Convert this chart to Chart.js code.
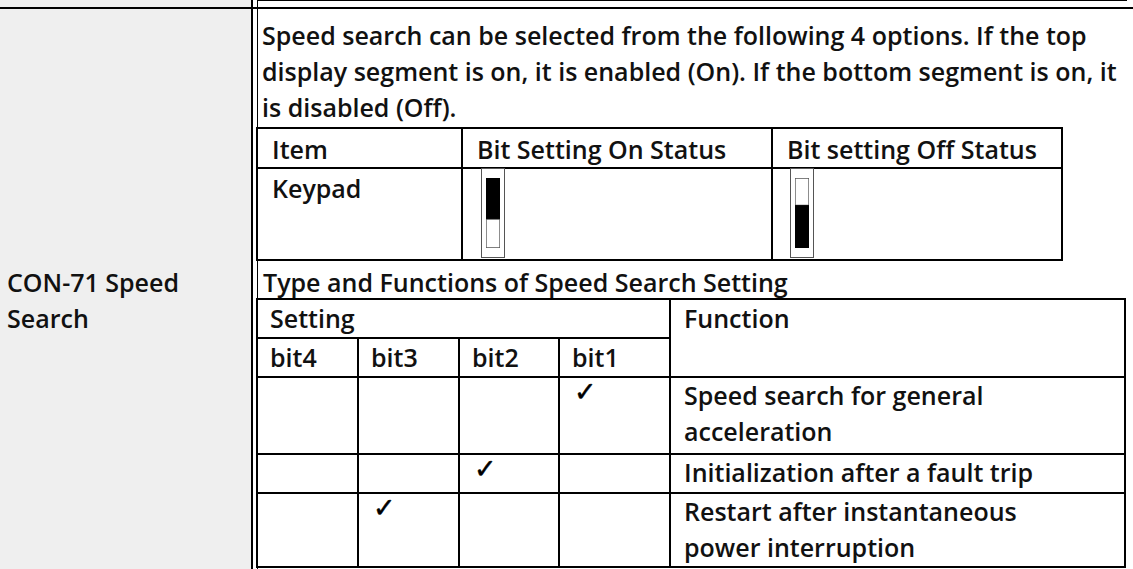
<!DOCTYPE html>
<html>
<head>
<meta charset="utf-8">
<script src="https://cdn.jsdelivr.net/npm/chart.js@4.4.0/dist/chart.umd.min.js"></script>
<style>
  html, body { margin: 0; padding: 0; background: #fff; }
  body { width: 1133px; height: 569px; position: relative; overflow: hidden;
         font-family: "Open Sans", sans-serif; font-weight: 600; color: #111; }
  .ln { position: absolute; background: #000; }
  .tx { position: absolute; white-space: nowrap; line-height: 36px; }
  .chk { position: absolute; font-family: "DejaVu Sans", sans-serif;
         font-size: 27px; line-height: 27px; -webkit-text-stroke: 0.5px #000; color: #000; }
  .sw { position: absolute; border: 1px solid #555; box-sizing: border-box; background: #fff; }
  .sw div { position: absolute; left: 4px; right: 4px; top: 9px; bottom: 9px; }
</style>
</head>
<body>
<script>
// --- texts ---
const sideTitle = ['CON-71 Speed', 'Search'];
const paragraphLines = [
    'Speed search can be selected from the following 4 options. If the top',
    'display segment is on, it is enabled (On). If the bottom segment is on, it',
    'is disabled (Off).'
];
const bitTableHeaders = ['Item', 'Bit Setting On Status', 'Bit setting Off Status'];
const bitTableItem = 'Keypad';
const subTitle = 'Type and Functions of Speed Search Setting';
const settingHeader = 'Setting';
const functionHeader = 'Function';
const bitLabels = ['bit4', 'bit3', 'bit2', 'bit1'];

// --- values ---
// switch segments, [lower, upper]
const switchOn = [28, 40];
const switchOff = [42, 27];
// one row per function, columns follow bitLabels
const checks = [
    [0, 0, 0, 1],
    [0, 0, 1, 0],
    [0, 1, 0, 0]
];
const functionLines = [
    ['Speed search for general', 'acceleration'],
    ['Initialization after a fault trip'],
    ['Restart after instantaneous', 'power interruption']
];

// --- layout ---
const upperCols = [257, 462, 772, 1062];
const upperRows = [128, 168, 260];
const lowerCols = [257, 358, 459, 559, 670, 1125];
const lowerRows = [299, 338, 377, 454, 493, 567];
const PAD = 15;

const body = document.body;

// font size fitted to the first paragraph line
const probe = document.createElement('span');
probe.style.cssText = 'position:absolute;visibility:hidden;white-space:nowrap;font-size:100px';
probe.textContent = paragraphLines[0];
body.appendChild(probe);
const FONT = 100 * 825 / probe.getBoundingClientRect().width;
probe.remove();
body.style.fontSize = FONT + 'px';

function box(x, y, w, h, cls, color) {
    const d = document.createElement('div');
    d.className = cls || 'ln';
    Object.assign(d.style, { left: x + 'px', top: y + 'px', width: w + 'px', height: h + 'px' });
    if (color) d.style.background = color;
    body.appendChild(d);
    return d;
}
const hline = (x1, x2, y, t = 2) => box(x1, y - t / 2, x2 - x1, t);
const vline = (x, y1, y2, t = 2) => box(x - t / 2, y1, t, y2 - y1);

function text(x, yc, str) {
    const d = document.createElement('div');
    d.className = 'tx';
    d.textContent = str;
    d.style.left = x + 'px';
    d.style.top = (yc - 18) + 'px';
    body.appendChild(d);
}

// left column
box(0, 0, 251, 569, 'ln', '#efefef');
sideTitle.forEach((s, i) => text(7, 282 + i * 36, s));

// frame lines
hline(0, 1133, 8, 2);
hline(257, 1127, 0.5, 1);
vline(252, 0, 569, 2);
vline(257.5, 0, 569, 1.5);

// paragraph
paragraphLines.forEach((s, i) => text(262, 35 + i * 36, s));

// upper table
upperRows.forEach(y => hline(upperCols[0], upperCols[3], y));
upperCols.forEach(x => vline(x, upperRows[0] - 1, upperRows[2] + 1));
bitTableHeaders.forEach((s, i) => text(upperCols[i] + PAD, 149, s));
text(upperCols[0] + PAD, 188, bitTableItem);

function drawSwitch(x, segs, on) {
    const sw = box(x, upperRows[1], 24, upperRows[2] - upperRows[1] - 2, 'sw');
    const holder = document.createElement('div');
    const cv = document.createElement('canvas');
    holder.appendChild(cv);
    sw.appendChild(holder);
    const fillLow = on ? '#fff' : '#000';
    const fillHigh = on ? '#000' : '#fff';
    new Chart(cv, {
        type: 'bar',
        data: {
            labels: [''],
            datasets: [
                { data: [segs[0]], backgroundColor: fillLow, borderColor: '#555',
                  borderWidth: on ? 1 : 0, borderSkipped: false },
                { data: [segs[1]], backgroundColor: fillHigh, borderColor: '#555',
                  borderWidth: on ? 0 : 1, borderSkipped: false }
            ]
        },
        options: {
            responsive: true,
            maintainAspectRatio: false,
            animation: false,
            events: [],
            layout: { padding: 0 },
            datasets: { bar: { barPercentage: 1, categoryPercentage: 1 } },
            scales: {
                x: { stacked: true, display: false },
                y: { stacked: true, display: false, min: 0, max: segs[0] + segs[1] }
            },
            plugins: { legend: { display: false }, tooltip: { enabled: false } }
        }
    });
}
drawSwitch(481, switchOn, true);
drawSwitch(790, switchOff, false);

// sub title
text(263, 282, subTitle);

// lower table
const L = lowerCols, R = lowerRows;
hline(L[0], L[5], R[0]);
hline(L[0], L[4], R[1]);
for (let r = 2; r < R.length; r++) hline(L[0], L[5], R[r]);
vline(L[0], R[0] - 1, R[5] + 1);
vline(L[4], R[0] - 1, R[5] + 1);
vline(L[5], R[0] - 1, R[5] + 1);
for (let c = 1; c < 4; c++) vline(L[c], R[1], R[5] + 1);

text(L[0] + 13, 318, settingHeader);
text(L[4] + 14, 318, functionHeader);
bitLabels.forEach((s, i) => text(L[i] + 13, 357, s));

functionLines.forEach((lines, r) => {
    const top = R[r + 2];
    lines.forEach((s, k) => text(L[4] + 14, top + 18 + k * 36, s));
    checks[r].forEach((v, c) => {
        if (!v) return;
        const d = document.createElement('div');
        d.className = 'chk';
        d.textContent = '\u2713';
        d.style.left = (L[c] + 15) + 'px';
        d.style.top = (top + 1) + 'px';
        body.appendChild(d);
    });
});
</script>
</body>
</html>
